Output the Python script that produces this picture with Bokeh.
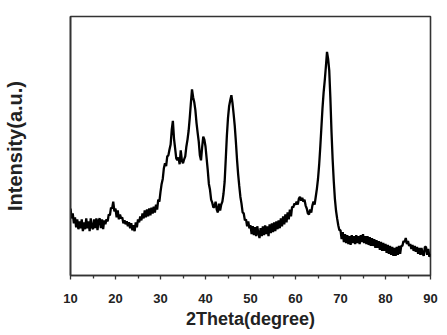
import numpy as np
from bokeh.plotting import figure
from bokeh.models import FixedTicker, Range1d
from bokeh.embed import file_html
from bokeh.resources import INLINE

# 2-theta sampling: 10 to 90 deg, step 0.25
theta_start = 10.0
theta_step = 0.25
intensity = [
    68, 58, 63, 53, 59, 49, 57, 47, 55, 48, 57, 45, 54, 47, 58, 48, 55, 45, 58, 49,
    47, 57, 48, 58, 46, 56, 58, 48, 57, 47, 56, 52, 57, 55, 62, 61, 69, 68, 75, 65,
    68, 59, 66, 57, 62, 58, 59, 53, 56, 52, 55, 50, 54, 48, 53, 46, 51, 45, 54, 49,
    57, 54, 60, 56, 63, 58, 66, 59, 67, 60, 68, 61, 69, 63, 70, 64, 72, 67, 77, 75,
    85, 93, 98, 109, 114, 111, 121, 122, 128, 133, 148, 157, 139, 129, 119, 117, 120, 113, 127, 117,
    114, 118, 121, 131, 138, 147, 160, 175, 189, 181, 176, 168, 155, 145, 136, 122, 117, 130, 141, 138,
    131, 119, 107, 93, 87, 77, 74, 69, 70, 75, 67, 64, 73, 66, 72, 75, 83, 95, 118, 142,
    160, 172, 178, 183, 175, 164, 152, 136, 118, 103, 91, 80, 73, 64, 63, 56, 57, 50, 55, 48,
    51, 42, 50, 41, 49, 40, 50, 43, 38, 48, 40, 50, 41, 51, 42, 50, 40, 52, 43, 53,
    44, 54, 45, 55, 47, 56, 48, 58, 50, 60, 52, 62, 54, 64, 57, 67, 60, 70, 69, 73,
    72, 75, 72, 78, 80, 76, 79, 75, 77, 71, 68, 63, 62, 67, 64, 71, 75, 72, 80, 88,
    98, 112, 130, 150, 170, 186, 198, 212, 227, 220, 208, 180, 146, 118, 96, 78, 66, 58, 51, 46,
    46, 37, 44, 34, 42, 33, 41, 32, 40, 31, 41, 33, 40, 32, 41, 33, 40, 32, 41, 34,
    42, 33, 40, 32, 40, 31, 39, 30, 38, 30, 37, 28, 36, 28, 35, 26, 34, 25, 33, 25,
    32, 23, 31, 22, 30, 21, 29, 20, 28, 20, 29, 21, 30, 22, 30, 30, 35, 34, 38, 32,
    35, 30, 32, 27, 31, 25, 30, 24, 29, 22, 28, 21, 28, 22, 20, 29, 29, 21, 27, 19,
    22,
]
two_theta = theta_start + theta_step * np.arange(len(intensity))
x_ticks = [10, 20, 30, 40, 50, 60, 70, 80, 90]

p = figure(width=439, height=331, output_backend="svg", toolbar_location=None,
           x_range=Range1d(10, 90), y_range=Range1d(0, 263),
           min_border_left=70, min_border_right=9, min_border_top=16, min_border_bottom=52)
p.line(two_theta, intensity, line_color="black", line_width=2.3)

p.grid.visible = False
p.background_fill_color = "white"
p.border_fill_color = "white"
p.outline_line_color = "#333333"
p.outline_line_width = 1.6

font = "Liberation Sans"
xa = p.xaxis[0]
xa.ticker = FixedTicker(ticks=x_ticks, minor_ticks=[15, 25, 35, 45, 55, 65, 75, 85])
xa.axis_line_color = "#333333"
xa.axis_line_width = 1.6
xa.major_tick_out = 4
xa.major_tick_in = 0
xa.minor_tick_out = 3
xa.minor_tick_in = 0
xa.major_tick_line_color = "#333333"
xa.minor_tick_line_color = "#333333"
xa.major_tick_line_width = 1.3
xa.minor_tick_line_width = 1.3
xa.major_label_text_font = font
xa.major_label_text_font_style = "bold"
xa.major_label_text_font_size = "13px"
xa.major_label_text_color = "#222222"
xa.major_label_standoff = 14
xa.axis_label = "2Theta(degree)"
xa.axis_label_text_font = font
xa.axis_label_text_font_style = "bold"
xa.axis_label_text_font_size = "18px"
xa.axis_label_text_color = "#222222"
xa.axis_label_standoff = 3

ya = p.yaxis[0]
ya.ticker = FixedTicker(ticks=[])
ya.axis_line_color = "#333333"
ya.axis_line_width = 1.6
ya.major_tick_line_color = None
ya.minor_tick_line_color = None
ya.axis_label = "Intensity(a.u.)"
ya.axis_label_text_font = font
ya.axis_label_text_font_style = "bold"
ya.axis_label_text_font_size = "20px"
ya.axis_label_text_color = "#222222"
ya.axis_label_standoff = 45

open("out.html", "w").write(file_html(p, INLINE))
